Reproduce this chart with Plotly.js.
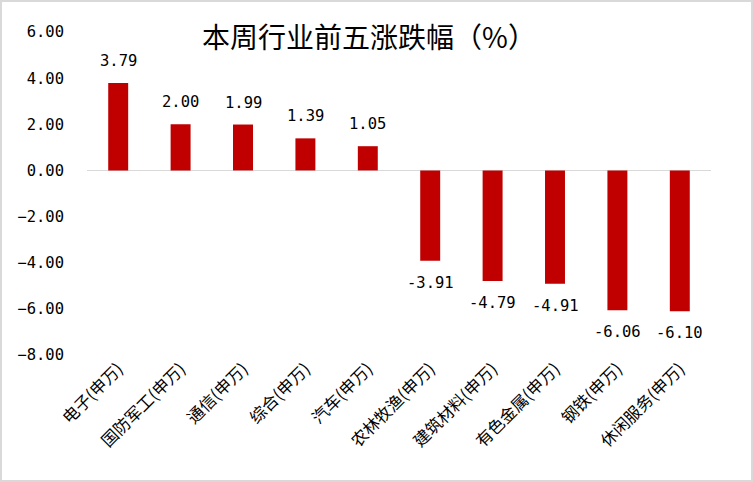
<!DOCTYPE html>
<html>
<head>
<meta charset="utf-8">
<script src="https://cdn.plot.ly/plotly-3.0.1.min.js"></script>
<style>
  html, body { margin: 0; padding: 0; background: #fff; }
  #chart { width: 753px; height: 482px; box-sizing: border-box; border: 2px solid #d9d9d9; }
</style>
</head>
<body>
<div id="chart"></div>
<script>
// industries and weekly change (%)
const industries = ['电子(申万)', '国防军工(申万)', '通信(申万)', '综合(申万)', '汽车(申万)',
    '农林牧渔(申万)', '建筑材料(申万)', '有色金属(申万)', '钢铁(申万)', '休闲服务(申万)'];
const changes = [3.79, 2.00, 1.99, 1.39, 1.05, -3.91, -4.79, -4.91, -6.06, -6.10];
const yTicks = [6, 4, 2, 0, -2, -4, -6, -8];

const cjk = '"Noto Sans CJK SC", "Noto Sans", sans-serif';
const mono = '"DejaVu Sans Mono", monospace';

// value labels sit a bit off the bar end, like the Excel original
const labels = changes.map((v, i) => ({
    x: industries[i],
    y: v,
    text: v.toFixed(2),
    showarrow: false,
    yanchor: v >= 0 ? 'bottom' : 'top',
    yshift: v >= 0 ? 11 : -11,
    font: {family: mono, size: 15.5, color: '#000'}
}));

Plotly.newPlot('chart', [{
    type: 'bar',
    x: industries,
    y: changes,
    marker: {color: '#c00000'},
    hoverinfo: 'none',
    showlegend: false
}], {
    width: 749,
    height: 478,
    margin: {t: 30, b: 125, l: 85, r: 40},
    paper_bgcolor: '#fff',
    plot_bgcolor: '#fff',
    bargap: 0.68,
    annotations: labels,
    title: {
        text: '本周行业前五涨跌幅（%）',
        font: {family: cjk, size: 28, color: '#000'},
        x: 0.49, xanchor: 'center',
        y: 0.925, yanchor: 'middle'
    },
    xaxis: {
        tickangle: -45,
        tickfont: {family: cjk, size: 16.5, color: '#000'},
        showline: false,
        showgrid: false,
        ticks: ''
    },
    yaxis: {
        range: [-8, 6],
        tickvals: yTicks,
        tickformat: '.2f',
        tickfont: {family: mono, size: 15.5, color: '#000'},
        showgrid: false,
        zeroline: true,
        zerolinecolor: '#d9d9d9',
        zerolinewidth: 1,
        ticklen: 0,
        ticklabelstandoff: 22
    }
}, {displayModeBar: false});
</script>
</body>
</html>
